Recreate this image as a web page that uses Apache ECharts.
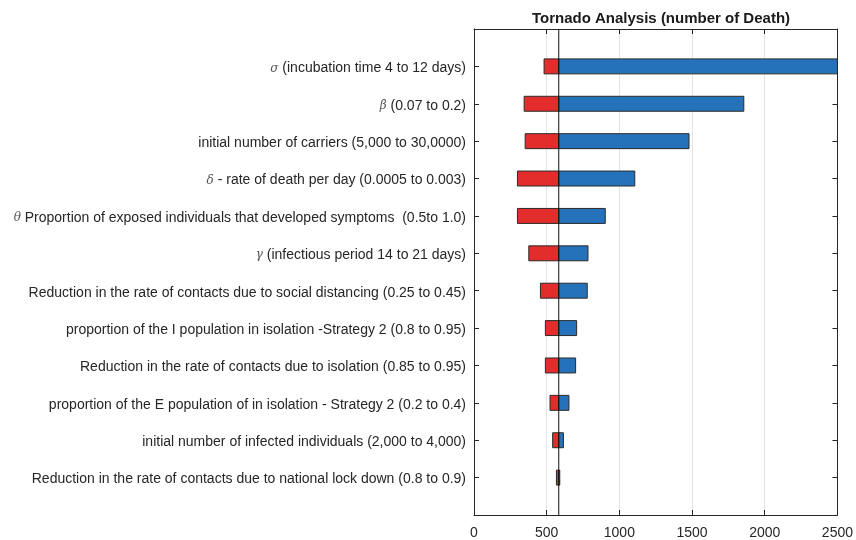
<!DOCTYPE html>
<html>
<head>
<meta charset="utf-8">
<script src="https://cdn.jsdelivr.net/npm/echarts@6/dist/echarts.min.js"></script>
<style>html,body{margin:0;padding:0;background:#fff;}#chart{width:856px;height:540px;}</style>
</head>
<body>
<div id="chart"></div>
<script>
const categories = [
  "σ (incubation time 4 to 12 days)",
  "β (0.07 to 0.2)",
  "initial number of carriers (5,000 to 30,0000)",
  "δ - rate of death per day (0.0005 to 0.003)",
  "θ Proportion of exposed individuals that developed symptoms  (0.5to 1.0)",
  "γ (infectious period 14 to 21 days)",
  "Reduction in the rate of contacts due to social distancing (0.25 to 0.45)",
  "proportion of the I population in isolation -Strategy 2 (0.8 to 0.95)",
  "Reduction in the rate of contacts due to isolation (0.85 to 0.95)",
  "proportion of the E population of in isolation - Strategy 2 (0.2 to 0.4)",
  "initial number of infected individuals (2,000 to 4,000)",
  "Reduction in the rate of contacts due to national lock down (0.8 to 0.9)"
];
const baseValue = 583;
const lowValues  = [482, 345, 352, 299, 299, 377, 457, 491, 491, 523, 541, 567];
const highValues = [2550, 1856, 1479, 1106, 903, 784, 779, 706, 699, 653, 615, 590];
const xTicks = [0, 500, 1000, 1500, 2000, 2500];

const textColor = '#262626';
const font = 'Liberation Sans';

function renderBar(color, isLow) {
  return function (params, api) {
    const idx = api.value(0);
    const v = api.value(1);
    const a = isLow ? v : baseValue;
    const b = isLow ? baseValue : v;
    const p1 = api.coord([a, idx + 1]);
    const p2 = api.coord([b, idx + 1]);
    const h = api.size([0, 0.4])[1];
    const rect = echarts.graphic.clipRectByRect(
      { x: p1[0], y: p1[1] - h / 2, width: p2[0] - p1[0], height: h },
      { x: params.coordSys.x, y: params.coordSys.y, width: params.coordSys.width, height: params.coordSys.height }
    );
    if (!rect) return;
    return {
      type: 'rect',
      shape: rect,
      style: { fill: color, stroke: '#2a2a2a', lineWidth: 1 }
    };
  };
}

function frameAxis(extra) {
  return Object.assign({
    axisLine: { show: true, onZero: false, lineStyle: { color: textColor, width: 1 } },
    axisTick: { show: true, inside: true, length: 5, lineStyle: { color: textColor } },
    splitLine: { show: false }
  }, extra);
}

const chart = echarts.init(document.getElementById('chart'), null, { renderer: 'canvas' });
chart.setOption({
  animation: false,
  backgroundColor: '#ffffff',
  title: {
    text: 'Tornado Analysis (number of Death)',
    left: 656, top: 6, textAlign: 'center',
    textStyle: { fontFamily: font, fontSize: 15, fontWeight: 'bold', color: '#1a1a1a' }
  },
  grid: { left: 474, right: 18, top: 29, bottom: 25, containLabel: false },
  xAxis: [frameAxis({
    type: 'value', min: 0, max: 2500, interval: 500, position: 'bottom',
    axisLabel: {
      color: textColor, fontFamily: font, fontSize: 14, margin: 11,
      formatter: function (v) { return xTicks.indexOf(v) >= 0 ? String(v) : ''; }
    },
    splitLine: { show: true, lineStyle: { color: '#e3e3e3', width: 1 } }
  }), frameAxis({
    type: 'value', min: 0, max: 2500, interval: 500, position: 'top',
    axisLabel: { show: false }
  })],
  yAxis: [frameAxis({
    type: 'value', min: 0, max: 13, interval: 1, inverse: true, position: 'left',
    axisLabel: {
      color: textColor, fontFamily: font, fontSize: 14, margin: 8,
      padding: [4, 0, 0, 0],
      formatter: function (v) {
        const name = categories[v - 1];
        if (!name) return '';
        const m = name.match(/^([α-ω])(.*)$/);
        if (m) return '{g|' + m[1] + '}' + m[2];
        return name;
      },
      rich: { g: { fontStyle: 'italic', fontFamily: 'DejaVu Serif', fontSize: 12, color: '#555' } }
    }
  }), frameAxis({
    type: 'value', min: 0, max: 13, interval: 1, inverse: true, position: 'right',
    axisLabel: { show: false }
  })],
  series: [{
    type: 'custom', name: 'low', xAxisIndex: 0, yAxisIndex: 0,
    renderItem: renderBar('#e32d2d', true),
    encode: { x: 1, y: 0 },
    data: lowValues.map((v, i) => [i, v]),
    z: 3
  }, {
    type: 'custom', name: 'high', xAxisIndex: 0, yAxisIndex: 0,
    renderItem: renderBar('#2672ba', false),
    encode: { x: 1, y: 0 },
    data: highValues.map((v, i) => [i, v]),
    z: 3
  }, {
    type: 'line', xAxisIndex: 0, yAxisIndex: 0,
    data: [[baseValue, 0], [baseValue, 13]],
    symbol: 'none',
    lineStyle: { color: '#111', width: 1 },
    z: 5
  }]
});
</script>
</body>
</html>
